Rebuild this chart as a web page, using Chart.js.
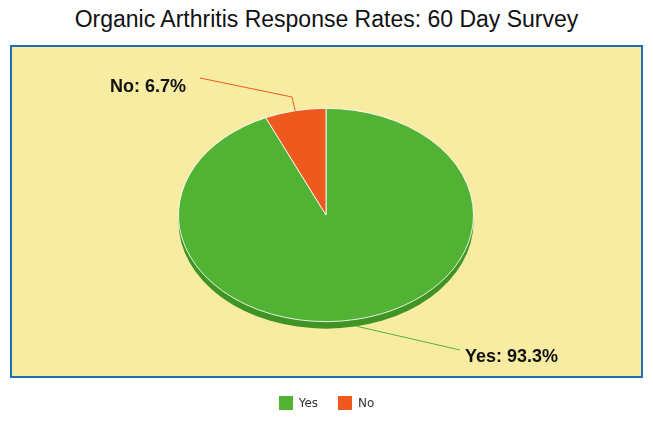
<html lang="en">
<head>
<meta charset="UTF-8">
<title>Organic Arthritis Response Rates</title>
<script src="https://cdn.jsdelivr.net/npm/chart.js"></script>
<style>
    body { margin: 0; width: 653px; height: 425px; position: relative; background: #fff; font-family: "Liberation Sans", Arial, sans-serif; overflow: hidden; }
    .title { position: absolute; top: 6px; left: 0; width: 653px; text-align: center; font-size: 23px; color: #111; }
    .box { position: absolute; left: 10px; top: 45px; width: 629px; height: 329px; background: #f7eca2; border: 2px solid #1f6db5; }
    canvas { position: absolute; left: 0; top: 0; }
    .legend { position: absolute; top: 396px; left: 0; width: 653px; text-align: center; font-family: "DejaVu Sans", sans-serif; font-size: 12px; color: #333; }
    .legend span.sw { display: inline-block; width: 14px; height: 14px; vertical-align: -3px; margin-right: 6px; }
    .legend span.item { margin: 0 8px; }
</style>
</head>
<body>
<div class="title">Organic Arthritis Response Rates: 60 Day Survey</div>
<div class="box"></div>
<canvas id="pie" width="653" height="425"></canvas>
<div class="legend">
    <span class="item"><span class="sw" style="background:#52b233"></span>Yes</span>
    <span class="item"><span class="sw" style="background:#ee5a1e"></span>No</span>
</div>
<script>
const categories = ["Yes", "No"];
const percents = [93.3, 6.7];
const colors = ["#52b233", "#ee5a1e"];
const sideColors = ["#3f9424", "#c4461a"];

const squash = 107 / 148;
const depth = 7;

// tilt the pie into an ellipse and give it a thin side
const tiltPlugin = {
    id: "tilt",
    beforeDatasetsDraw(chart) {
        const ctx = chart.ctx;
        const arc = chart.getDatasetMeta(0).data[0];
        const cx = arc.x, cy = arc.y, r = arc.outerRadius;
        ctx.save();
        ctx.fillStyle = sideColors[0];
        ctx.beginPath();
        ctx.ellipse(cx, cy + depth, r, r * squash, 0, 0, Math.PI * 2);
        ctx.fill();
        ctx.translate(cx, cy);
        ctx.scale(1, squash);
        ctx.translate(-cx, -cy);
    },
    afterDatasetsDraw(chart) {
        const ctx = chart.ctx;
        ctx.restore();
        const meta = chart.getDatasetMeta(0);
        const labelSpots = [
            { line: [[460, 350]], text: [465, 357], align: "left", color: "#52b233" },
            { line: [[292, 97], [200, 78]], text: [186, 87], align: "right", color: "#ee5a1e" }
        ];
        meta.data.forEach((arc, i) => {
            const mid = (arc.startAngle + arc.endAngle) / 2;
            const sx = arc.x + Math.cos(mid) * arc.outerRadius;
            const sy = arc.y + Math.sin(mid) * arc.outerRadius * squash + (Math.sin(mid) > 0 ? depth : 0);
            const spot = labelSpots[i];
            ctx.save();
            ctx.strokeStyle = spot.color;
            ctx.lineWidth = 1;
            ctx.beginPath();
            ctx.moveTo(sx, sy);
            spot.line.forEach(p => ctx.lineTo(p[0], p[1]));
            ctx.stroke();
            ctx.fillStyle = "#111";
            ctx.font = "bold 18px 'Liberation Sans', Arial, sans-serif";
            ctx.textAlign = spot.align;
            ctx.textBaseline = "middle";
            ctx.fillText(categories[i] + ": " + percents[i] + "%", spot.text[0], spot.text[1]);
            ctx.restore();
        });
    }
};

new Chart(document.getElementById("pie").getContext("2d"), {
    type: "pie",
    data: {
        labels: categories,
        datasets: [{
            data: percents,
            backgroundColor: colors,
            borderColor: "#ffffff",
            borderWidth: 1
        }]
    },
    options: {
        responsive: false,
        animation: false,
        layout: { padding: { left: 178, right: 179, top: 67, bottom: 62 } },
        plugins: { legend: { display: false }, title: { display: false }, tooltip: { enabled: false } }
    },
    plugins: [tiltPlugin]
});
</script>
</body>
</html>
